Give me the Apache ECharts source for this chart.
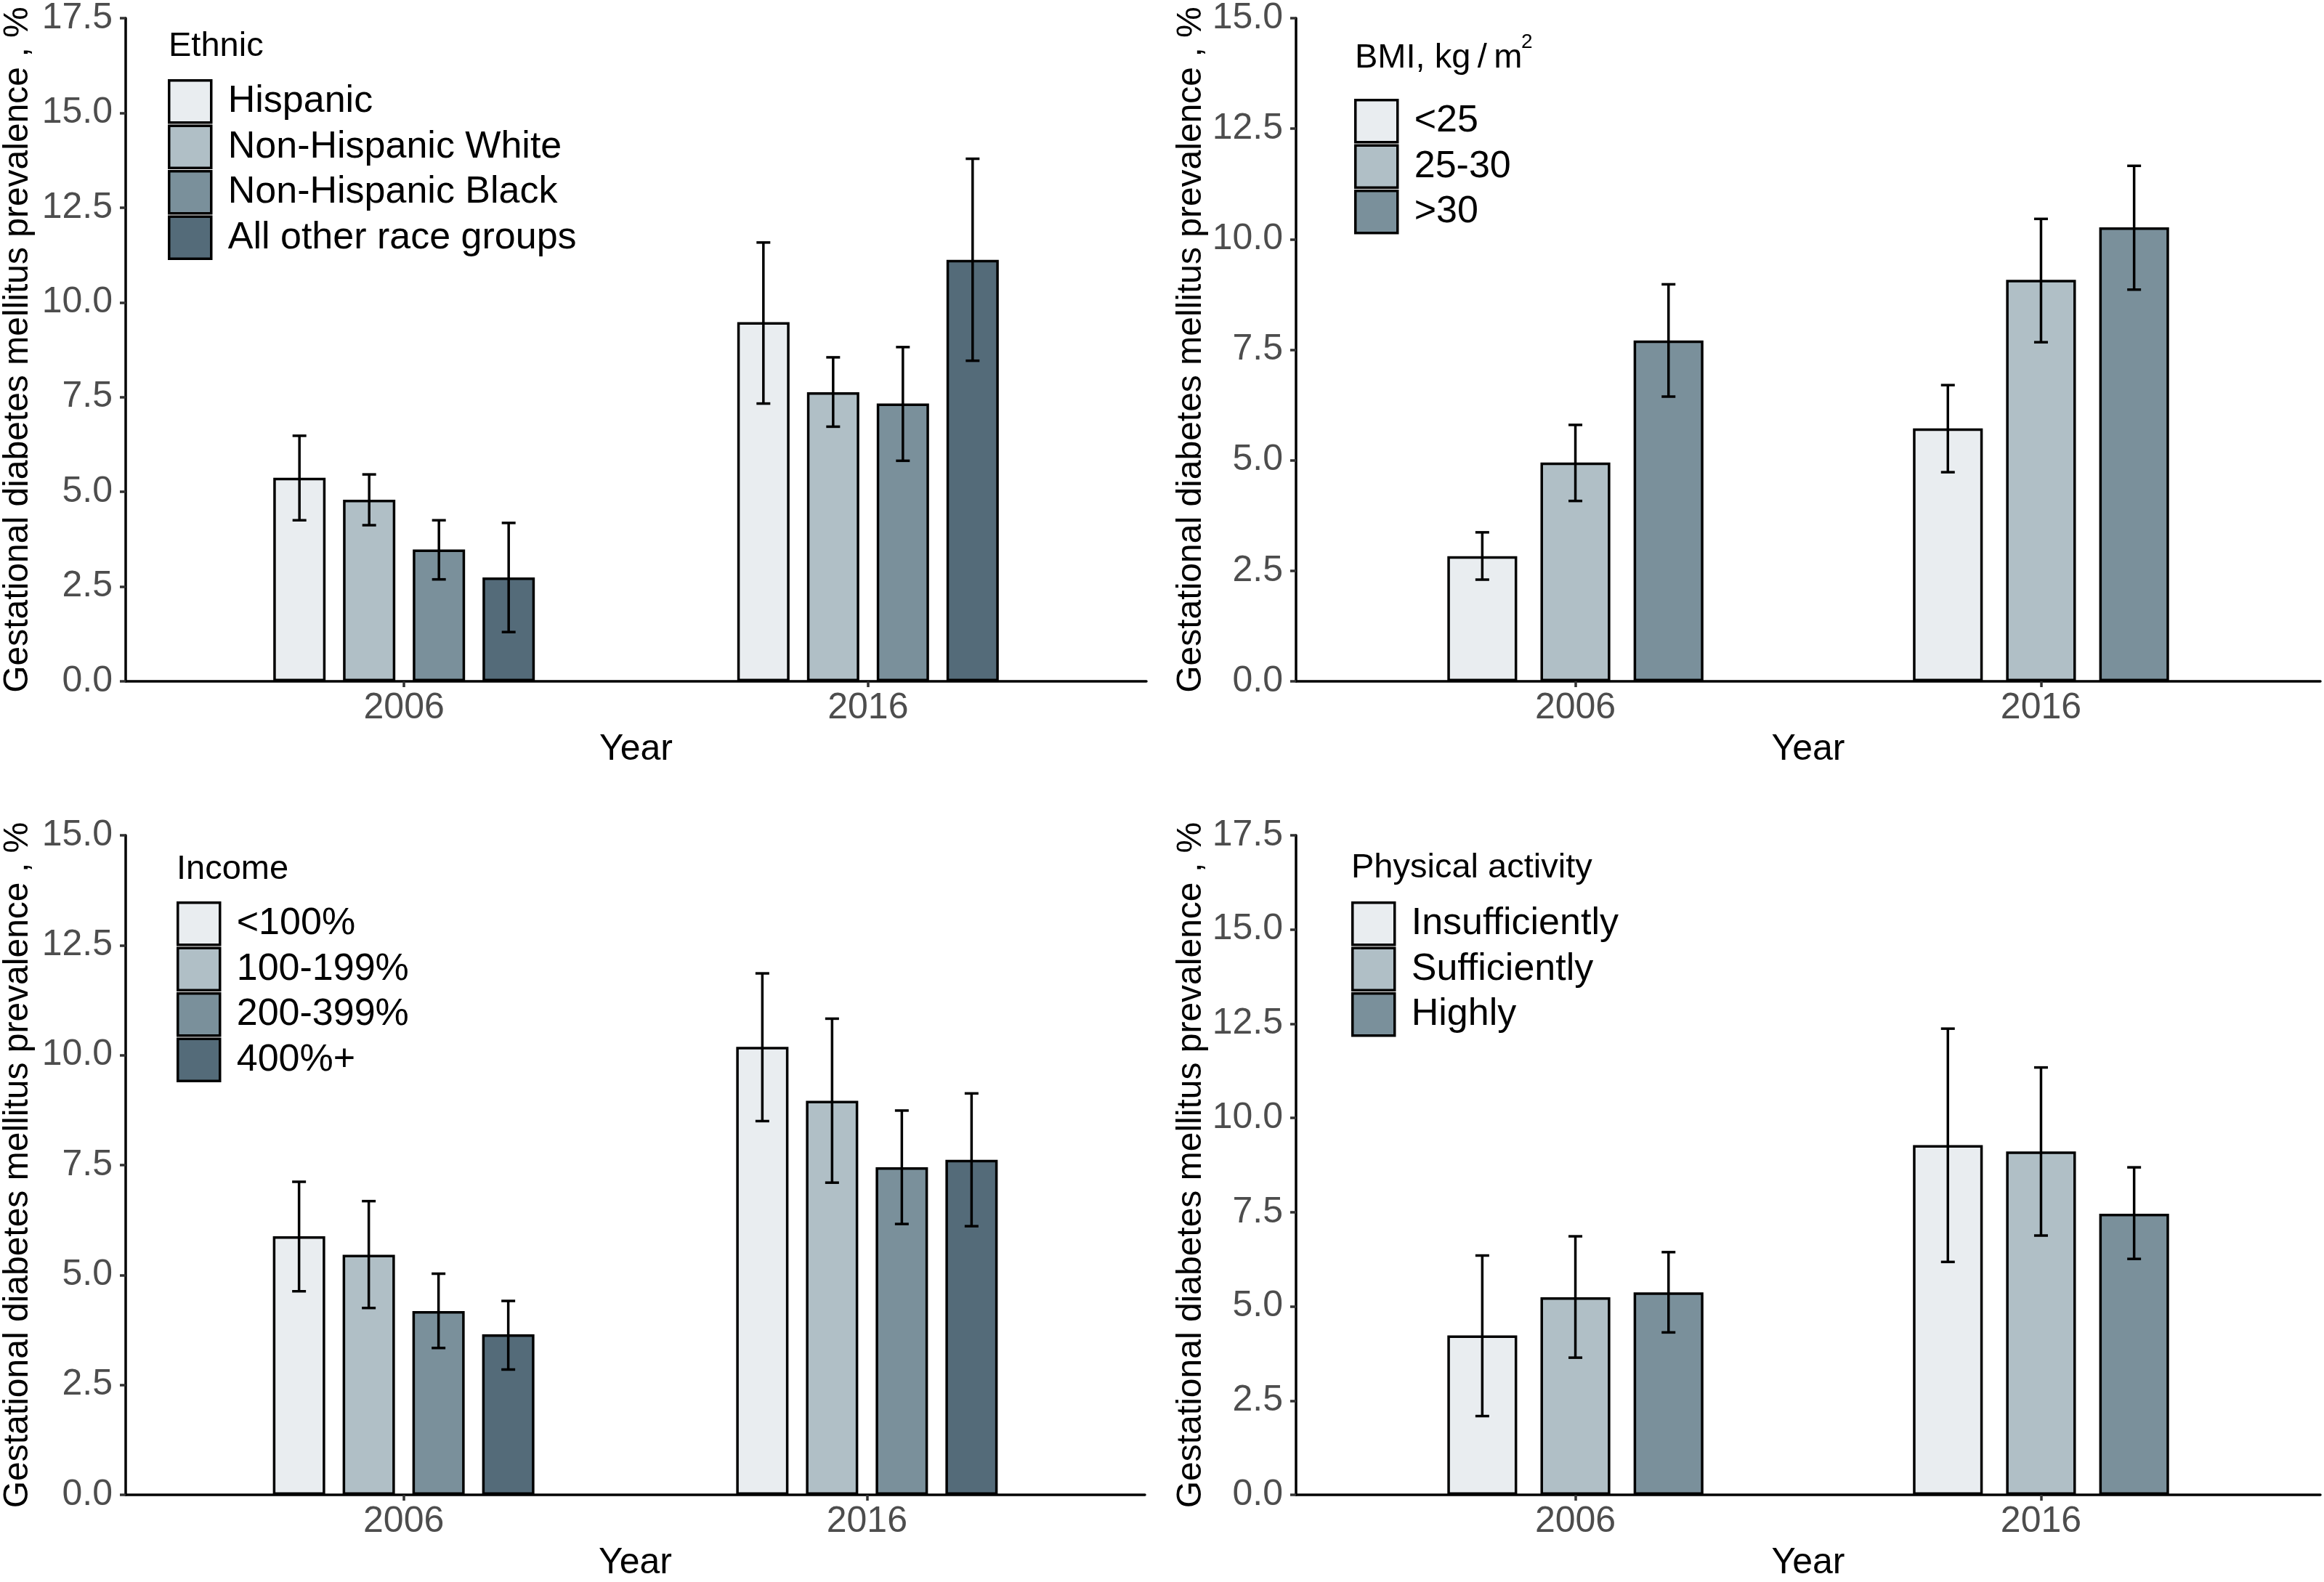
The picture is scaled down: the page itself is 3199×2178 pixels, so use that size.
<!DOCTYPE html>
<html><head><meta charset="utf-8">
<script src="https://cdn.jsdelivr.net/npm/echarts@6/dist/echarts.min.js"></script>
<style>html,body{margin:0;padding:0;background:#fff}#c{width:3199px;height:2178px}</style>
</head><body><div id="c"></div>
<script>
// ---- data ----
const years = ['2006', '2016'];

const ethnicNames = ['Hispanic', 'Non-Hispanic White', 'Non-Hispanic Black', 'All other race groups'];
const ethnicValues = [[5.37, 9.48], [4.79, 7.63], [3.48, 7.33], [2.74, 11.12]];
const ethnicLower  = [[4.25, 7.33], [4.12, 6.72], [2.69, 5.82], [1.30, 8.46]];
const ethnicUpper  = [[6.48, 11.58], [5.46, 8.55], [4.25, 8.82], [4.18, 13.79]];

const bmiNames = ['<25', '25-30', '>30'];
const bmiValues = [[2.83, 5.72], [4.95, 9.08], [7.71, 10.27]];
const bmiLower  = [[2.30, 4.73], [4.08, 7.67], [6.44, 8.86]];
const bmiUpper  = [[3.37, 6.70], [5.80, 10.46], [8.98, 11.66]];

const incomeNames = ['<100%', '100-199%', '200-399%', '400%+'];
const incomeValues = [[5.88, 10.19], [5.46, 8.96], [4.18, 7.45], [3.65, 7.62]];
const incomeLower  = [[4.63, 8.50], [4.25, 7.10], [3.34, 6.16], [2.85, 6.11]];
const incomeUpper  = [[7.12, 11.86], [6.68, 10.83], [5.03, 8.74], [4.41, 9.13]];

const paNames = ['Insufficiently', 'Sufficiently', 'Highly'];
const paValues = [[4.23, 9.28], [5.24, 9.11], [5.37, 7.46]];
const paLower  = [[2.09, 6.18], [3.64, 6.88], [4.31, 6.26]];
const paUpper  = [[6.35, 12.37], [6.86, 11.34], [6.44, 8.69]];

const yMaxes = [17.5, 15, 15, 17.5];
const legendTitles = ['Ethnic', 'BMI, kg\u2009/\u2009m', 'Income', 'Physical activity'];
const yTitle = 'Gestational diabetes mellitus prevalence , %';
const xTitle = 'Year';

// ---- style ----
const FONT = 'Liberation Sans, Arial, sans-serif';
const colors = ['#E9EDF0', '#B0BFC6', '#7A909B', '#546B79'];
const LW = 3.5;
const grids = [
  {left: 170, top: 18, width: 1408, height: 920},
  {left: 1784, top: 18, width: 1410, height: 920},
  {left: 168, top: 1150, width: 1408, height: 920},
  {left: 1784, top: 1150, width: 1410, height: 920}
];
const legendPos = [
  {left: 231, top: 109}, {left: 1864, top: 136},
  {left: 243, top: 1241}, {left: 1860, top: 1241}
];
const titlePos = [
  {left: 232, top: 41}, {left: 1865, top: 57},
  {left: 243, top: 1174}, {left: 1860, top: 1172}
];
const yNameGap = [124, 120, 124, 120];

const panels = [
  {names: ethnicNames, values: ethnicValues, lower: ethnicLower, upper: ethnicUpper},
  {names: bmiNames, values: bmiValues, lower: bmiLower, upper: bmiUpper},
  {names: incomeNames, values: incomeValues, lower: incomeLower, upper: incomeUpper},
  {names: paNames, values: paValues, lower: paLower, upper: paUpper}
];

const xAxes = [], yAxes = [], series = [], legends = [], titles = [];

panels.forEach((p, k) => {
  const n = p.names.length;
  const unitPx = grids[k].width / 2.2;
  const barW = unitPx * 0.6 / n * 0.75;
  const step = barW * 4 / 3;

  xAxes.push({
    type: 'value', gridIndex: k, min: 0.4, max: 2.6,
    name: xTitle, nameLocation: 'middle', nameGap: 69,
    nameTextStyle: {fontSize: 50, color: '#000', fontFamily: FONT},
    axisLine: {show: true, onZero: false, lineStyle: {color: '#000', width: LW}},
    axisTick: {show: true, length: 8, customValues: [1, 2], lineStyle: {color: '#333', width: LW}},
    axisLabel: {show: true, customValues: [1, 2], margin: 12, fontSize: 50, color: '#4D4D4D', fontFamily: FONT,
      formatter: v => years[Math.round(v) - 1] || ''},
    splitLine: {show: false}
  });
  yAxes.push({
    type: 'value', gridIndex: k, min: 0, max: yMaxes[k], interval: 2.5,
    name: yTitle, nameLocation: 'middle', nameGap: yNameGap[k], nameRotate: 90,
    nameTextStyle: {fontSize: 48, color: '#000', fontFamily: FONT},
    axisLine: {show: true, lineStyle: {color: '#000', width: LW}},
    axisTick: {show: true, length: 8, lineStyle: {color: '#333', width: LW}},
    axisLabel: {margin: 18, fontSize: 50, color: '#4D4D4D', fontFamily: FONT, formatter: v => v.toFixed(1)},
    splitLine: {show: false}
  });

  p.names.forEach((name, g) => {
    series.push({
      type: 'bar', name: name, xAxisIndex: k, yAxisIndex: k,
      data: years.map((y, i) => [i + 1, p.values[g][i]]),
      barWidth: barW, barGap: '33.333%',
      itemStyle: {color: colors[g], borderColor: '#000', borderWidth: LW},
      emphasis: {disabled: true}, z: 2
    });
  });

  const errData = [];
  p.names.forEach((name, g) => {
    years.forEach((y, i) => errData.push([i + 1, p.lower[g][i], p.upper[g][i], g]));
  });
  series.push({
    type: 'custom', name: 'err' + k, xAxisIndex: k, yAxisIndex: k, z: 10, clip: false,
    encode: {x: 0, y: [1, 2]},
    data: errData,
    renderItem: function (params, api) {
      const x = api.value(0), lo = api.value(1), hi = api.value(2), g = api.value(3);
      const pLo = api.coord([x, lo]);
      const pHi = api.coord([x, hi]);
      const cx = pLo[0] + (g - (n - 1) / 2) * step;
      const hw = 9.5;
      const st = {stroke: '#000', lineWidth: LW};
      return {type: 'group', children: [
        {type: 'line', shape: {x1: cx, y1: pHi[1], x2: cx, y2: pLo[1]}, style: st},
        {type: 'line', shape: {x1: cx - hw, y1: pHi[1], x2: cx + hw, y2: pHi[1]}, style: st},
        {type: 'line', shape: {x1: cx - hw, y1: pLo[1], x2: cx + hw, y2: pLo[1]}, style: st}
      ]};
    }
  });

  legends.push({
    data: p.names, left: legendPos[k].left, top: legendPos[k].top,
    orient: 'vertical', itemWidth: 58, itemHeight: 58, itemGap: 1, padding: 0,
    icon: 'rect', selectedMode: false,
    itemStyle: {borderWidth: LW, borderColor: '#000'},
    textStyle: {fontSize: 52, color: '#000', fontFamily: FONT, padding: [0, 0, 0, 18]}
  });

  titles.push({
    text: legendTitles[k], left: titlePos[k].left, top: titlePos[k].top, padding: 0,
    textStyle: {fontSize: 47, lineHeight: 47, fontWeight: 'normal', color: '#000', fontFamily: FONT}
  });
});

// superscript of the BMI unit
titles.push({
  text: '2', left: 2094, top: 44, padding: 0,
  textStyle: {fontSize: 28, lineHeight: 28, fontWeight: 'normal', color: '#000', fontFamily: FONT}
});

const chart = echarts.init(document.getElementById('c'));
chart.setOption({
  animation: false,
  backgroundColor: '#fff',
  textStyle: {fontFamily: FONT},
  title: titles,
  legend: legends,
  grid: grids,
  xAxis: xAxes,
  yAxis: yAxes,
  series: series
});
</script>
</body></html>
